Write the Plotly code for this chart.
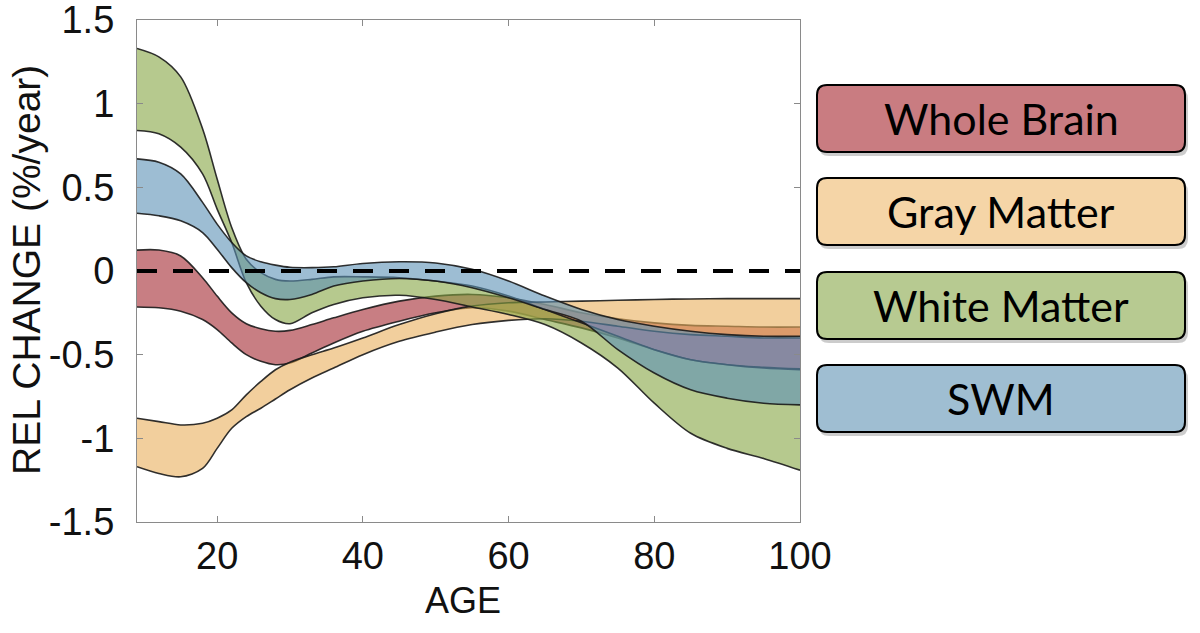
import plotly.graph_objects as go

# ---------------- data ----------------
AGES = [9, 12, 15, 18, 20, 22, 24, 26, 28, 30, 33, 36, 40, 45, 50, 55, 60, 65, 70, 75, 80, 85, 90, 95, 100]

WB_UP = [0.125, 0.125, 0.09, -0.04, -0.15, -0.25, -0.315, -0.345, -0.36, -0.355, -0.32, -0.28, -0.23, -0.18, -0.15,
         -0.14, -0.16, -0.20, -0.25, -0.285, -0.31, -0.325, -0.33, -0.335, -0.335]
WB_LO = [-0.215, -0.22, -0.24, -0.29, -0.35, -0.43, -0.50, -0.54, -0.56, -0.55, -0.49, -0.43, -0.36, -0.30, -0.25,
         -0.22, -0.24, -0.29, -0.34, -0.40, -0.47, -0.53, -0.56, -0.575, -0.585]

GM_UP = [-0.88, -0.90, -0.92, -0.91, -0.88, -0.83, -0.74, -0.66, -0.59, -0.545, -0.50, -0.46, -0.40, -0.32, -0.255,
         -0.21, -0.19, -0.185, -0.18, -0.175, -0.17, -0.167, -0.165, -0.165, -0.165]
GM_LO = [-1.17, -1.21, -1.23, -1.18, -1.06, -0.94, -0.87, -0.82, -0.765, -0.71, -0.64, -0.58, -0.50, -0.42, -0.365,
         -0.32, -0.295, -0.285, -0.30, -0.33, -0.36, -0.38, -0.39, -0.40, -0.40]

WM_UP = [1.33, 1.28, 1.16, 0.85, 0.55, 0.26, 0.07, -0.01, -0.05, -0.06, -0.05, -0.035, -0.035, -0.04, -0.06,
         -0.09, -0.15, -0.23, -0.31, -0.39, -0.47, -0.53, -0.56, -0.58, -0.59]
WM_LO = [0.84, 0.82, 0.74, 0.58, 0.37, 0.17, -0.07, -0.21, -0.29, -0.315, -0.25, -0.20, -0.16, -0.145, -0.17,
         -0.215, -0.26, -0.32, -0.43, -0.58, -0.79, -0.97, -1.06, -1.12, -1.19]

SWM_UP = [0.67, 0.65, 0.58, 0.41, 0.28, 0.17, 0.09, 0.055, 0.035, 0.022, 0.02, 0.025, 0.045, 0.055, 0.048,
          0.01, -0.06, -0.15, -0.23, -0.29, -0.33, -0.36, -0.38, -0.39, -0.39]
SWM_LO = [0.345, 0.33, 0.30, 0.23, 0.13, 0.02, -0.07, -0.13, -0.165, -0.17, -0.14, -0.09, -0.06, -0.045, -0.06,
          -0.10, -0.16, -0.23, -0.30, -0.47, -0.61, -0.71, -0.76, -0.79, -0.80]

NAMES = ["Whole Brain", "Gray Matter", "White Matter", "SWM"]
Y_TICKS = [1.5, 1, 0.5, 0, -0.5, -1, -1.5]
Y_TICK_TEXT = ["1.5", "1", "0.5", "0", "-0.5", "-1", "-1.5"]
X_TICKS = [20, 40, 60, 80, 100]

# ---------------- styling ----------------
FILLS = ["rgba(163,40,48,0.6)", "rgba(233,175,92,0.6)", "rgba(133,165,67,0.6)", "rgba(92,145,182,0.6)"]
BOX_COLORS = ["rgb(201,124,129)", "rgb(245,213,167)", "rgb(183,202,145)", "rgb(159,190,210)"]
EDGE = "rgba(25,25,25,0.9)"

bands = [(WB_UP, WB_LO), (GM_UP, GM_LO), (WM_UP, WM_LO), (SWM_UP, SWM_LO)]

fig = go.Figure()
for (up, lo), fc, name in zip(bands, FILLS, NAMES):
    fig.add_trace(go.Scatter(x=AGES, y=lo, mode="lines", line=dict(color=EDGE, width=1.6, shape="spline", smoothing=0.9),
                             showlegend=False, hoverinfo="skip", name=name + " lower"))
    fig.add_trace(go.Scatter(x=AGES, y=up, mode="lines", fill="tonexty", fillcolor=fc,
                             line=dict(color=EDGE, width=1.6, shape="spline", smoothing=0.9),
                             showlegend=False, name=name))

W, H = 1200, 633
L, R, T, B = 137, 400, 20, 111
PW, PH = W - L - R, H - T - B


def px(xp):
    return (xp - L) / PW


def py(yp):
    return (H - B - yp) / PH


def rrect(x0, y0, x1, y1, r=10):
    X0, X1, Y0, Y1 = px(x0), px(x1), py(y0), py(y1)
    rx, ry = r / PW, r / PH
    return (f"M {X0+rx},{Y0} L {X1-rx},{Y0} Q {X1},{Y0} {X1},{Y0-ry} "
            f"L {X1},{Y1+ry} Q {X1},{Y1} {X1-rx},{Y1} L {X0+rx},{Y1} Q {X0},{Y1} {X0},{Y1+ry} "
            f"L {X0},{Y0-ry} Q {X0},{Y0} {X0+rx},{Y0} Z")


shapes = [dict(type="line", xref="x domain", yref="y", x0=0, x1=1, y0=0, y1=0, layer="above",
               line=dict(color="black", width=4, dash="20px,16px"))]
annotations = []
box_tops = [85, 178, 272, 365]
bh = 67
for top, col, name in zip(box_tops, BOX_COLORS, NAMES):
    shapes.append(dict(type="path", xref="paper", yref="paper", path=rrect(819, top + 4, 1188, top + bh + 4),
                       fillcolor="rgba(0,0,0,0.2)", line=dict(width=0), layer="below"))
    shapes.append(dict(type="path", xref="paper", yref="paper", path=rrect(817, top, 1185, top + bh),
                       fillcolor=col, line=dict(color="black", width=2), layer="above"))
    annotations.append(dict(xref="paper", yref="paper", x=px(1001), y=py(top + bh / 2), text=name,
                            showarrow=False, xanchor="center", yanchor="middle",
                            font=dict(family="Lato", size=43, color="black")))

annotations.append(dict(xref="paper", yref="paper", x=px(463), y=py(600), text="AGE", showarrow=False,
                        xanchor="center", yanchor="middle",
                        font=dict(family="Liberation Sans, Arial", size=36, color="#111")))
annotations.append(dict(xref="paper", yref="paper", x=px(26), y=py(270), text="REL CHANGE (%/year)",
                        showarrow=False, textangle=-90, xanchor="center", yanchor="middle",
                        font=dict(family="Liberation Sans, Arial", size=39, color="#111")))

axis_common = dict(showline=True, linecolor="#8a8a8a", linewidth=1.2, mirror="ticks", ticks="inside",
                   ticklen=6, tickcolor="#8a8a8a", showgrid=False, zeroline=False,
                   ticklabeloverflow="allow",
                   tickfont=dict(family="Liberation Sans, Arial", size=38, color="#111"))

fig.update_layout(
    width=W, height=H, margin=dict(l=L, r=R, t=T, b=B),
    paper_bgcolor="white", plot_bgcolor="white",
    xaxis=dict(range=[9, 100], tickvals=X_TICKS, ticklabelstandoff=0, automargin=False, **axis_common),
    yaxis=dict(range=[-1.5, 1.5], tickvals=Y_TICKS, ticktext=Y_TICK_TEXT, ticklabelstandoff=14,
               automargin=False, **axis_common),
    shapes=shapes, annotations=annotations, showlegend=False,
)

# remove the default 8px page margin so the figure sits at the window's top-left corner
fig.write_html("out.html", config={"displayModeBar": False},
               post_script="document.body.style.margin='0';document.body.style.overflow='hidden';")
